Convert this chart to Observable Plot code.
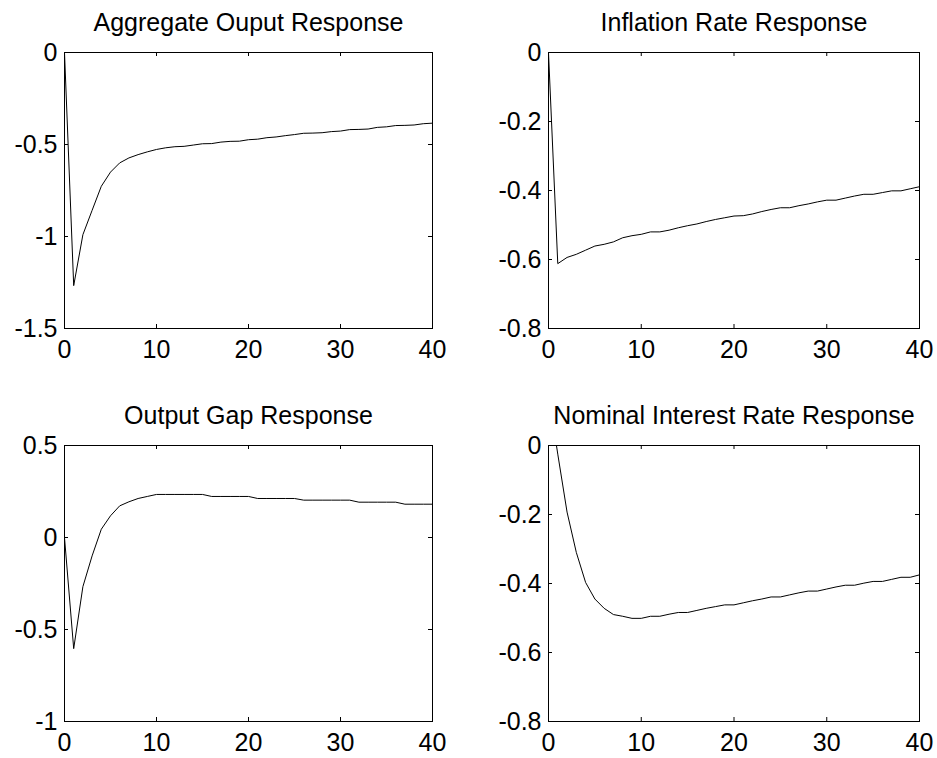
<!DOCTYPE html>
<html>
<head>
<meta charset="utf-8">
<script src="https://cdn.jsdelivr.net/npm/d3@7"></script>
<script src="https://cdn.jsdelivr.net/npm/@observablehq/plot@0.6"></script>
<style>
  html, body { margin: 0; padding: 0; background: #fff; }
  #chart { position: relative; width: 937px; height: 758px; background: #fff; }
</style>
</head>
<body>
<div id="chart"></div>
<script>
// ---- data ----
const steps = [0,1,2,3,4,5,6,7,8,9,10,11,12,13,14,15,16,17,18,19,20,21,22,23,24,25,26,27,28,29,30,31,32,33,34,35,36,37,38,39,40];

const outputResp = [0, -1.267, -0.99, -0.858, -0.727, -0.65, -0.60, -0.573, -0.555, -0.54, -0.527, -0.518, -0.512, -0.51, -0.503, -0.496, -0.495, -0.487, -0.483, -0.482, -0.474, -0.471, -0.463, -0.459, -0.452, -0.446, -0.439, -0.438, -0.436, -0.43, -0.427, -0.419, -0.418, -0.416, -0.407, -0.404, -0.397, -0.396, -0.394, -0.387, -0.384];

const inflationResp = [0, -0.612, -0.594, -0.585, -0.573, -0.561, -0.556, -0.549, -0.537, -0.531, -0.527, -0.52, -0.52, -0.515, -0.508, -0.502, -0.497, -0.49, -0.484, -0.479, -0.474, -0.473, -0.468, -0.461, -0.455, -0.45, -0.45, -0.444, -0.439, -0.433, -0.428, -0.428, -0.422, -0.416, -0.411, -0.411, -0.406, -0.401, -0.401, -0.395, -0.389];

const gapResp = [0, -0.604, -0.267, -0.10, 0.045, 0.118, 0.172, 0.194, 0.212, 0.223, 0.234, 0.234, 0.234, 0.234, 0.234, 0.234, 0.223, 0.223, 0.223, 0.223, 0.223, 0.212, 0.212, 0.212, 0.212, 0.212, 0.203, 0.203, 0.203, 0.203, 0.203, 0.203, 0.192, 0.192, 0.192, 0.192, 0.192, 0.181, 0.181, 0.181, 0.181];

const interestResp = [0.15, -0.025, -0.193, -0.31, -0.397, -0.445, -0.472, -0.49, -0.495, -0.501, -0.501, -0.495, -0.495, -0.489, -0.484, -0.484, -0.478, -0.472, -0.467, -0.462, -0.462, -0.456, -0.45, -0.445, -0.439, -0.439, -0.433, -0.427, -0.422, -0.422, -0.416, -0.41, -0.405, -0.405, -0.399, -0.394, -0.394, -0.388, -0.382, -0.382, -0.375];

const titles = ["Aggregate Ouput Response", "Inflation Rate Response", "Output Gap Response", "Nominal Interest Rate Response"];
const xTicks = [0, 10, 20, 30, 40];
const yTicksOutput = [-1.5, -1, -0.5, 0];
const yTicksInflation = [-0.8, -0.6, -0.4, -0.2, 0];
const yTicksGap = [-1, -0.5, 0, 0.5];
const yTicksInterest = [-0.8, -0.6, -0.4, -0.2, 0];

// ---- layout ----
const panels = [
  {title: titles[0], values: outputResp, yTicks: yTicksOutput, left: 0, top: 0, w: 468, ml: 64, mr: 36, mt: 52, mb: 51},
  {title: titles[1], values: inflationResp, yTicks: yTicksInflation, left: 468, top: 0, w: 469, ml: 80, mr: 18, mt: 52, mb: 51},
  {title: titles[2], values: gapResp, yTicks: yTicksGap, left: 0, top: 379, w: 468, ml: 64, mr: 36, mt: 66, mb: 37},
  {title: titles[3], values: interestResp, yTicks: yTicksInterest, left: 468, top: 379, w: 469, ml: 80, mr: 18, mt: 66, mb: 37}
];

const H = 379;
const tickLen = 4;
const fmt = d => String(d);
const chart = document.getElementById("chart");

for (const p of panels) {
  const data = steps.map((s, i) => ({step: s, value: p.values[i]}));
  const fw = p.w - p.ml - p.mr;
  const fh = H - p.mt - p.mb;
  const yDomain = [p.yTicks[0], p.yTicks[p.yTicks.length - 1]];
  const svg = Plot.plot({
    width: p.w,
    height: H,
    marginLeft: p.ml,
    marginRight: p.mr,
    marginTop: p.mt,
    marginBottom: p.mb,
    style: {fontFamily: "'Liberation Sans', Arial, Helvetica, sans-serif", fontSize: "25px", background: "white", color: "black", overflow: "visible"},
    x: {domain: [0, 40], label: null},
    y: {domain: yDomain, label: null},
    marks: [
      Plot.line(data, {x: "step", y: "value", stroke: "black", strokeWidth: 1, clip: true}),
      Plot.frame({stroke: "black", strokeWidth: 1}),
      // inward ticks on all four sides
      Plot.tickX(xTicks, {x: d => d, stroke: "black", insetBottom: fh - tickLen}),
      Plot.tickX(xTicks, {x: d => d, stroke: "black", insetTop: fh - tickLen}),
      Plot.tickY(p.yTicks, {y: d => d, stroke: "black", insetRight: fw - tickLen}),
      Plot.tickY(p.yTicks, {y: d => d, stroke: "black", insetLeft: fw - tickLen}),
      Plot.axisX(xTicks, {anchor: "bottom", tickSize: 0, tickPadding: 12, tickFormat: fmt, fill: "black", fontSize: 25, label: null}),
      Plot.axisY(p.yTicks, {anchor: "left", tickSize: 0, tickPadding: 7, tickFormat: fmt, fill: "black", fontSize: 25, label: null}),
      Plot.text([p.title], {text: d => d, frameAnchor: "top", dy: -30, fill: "black", fontSize: 25, lineAnchor: "middle"})
    ]
  });
  svg.style.position = "absolute";
  svg.style.left = p.left + "px";
  svg.style.top = p.top + "px";
  chart.appendChild(svg);
}
</script>
</body>
</html>
